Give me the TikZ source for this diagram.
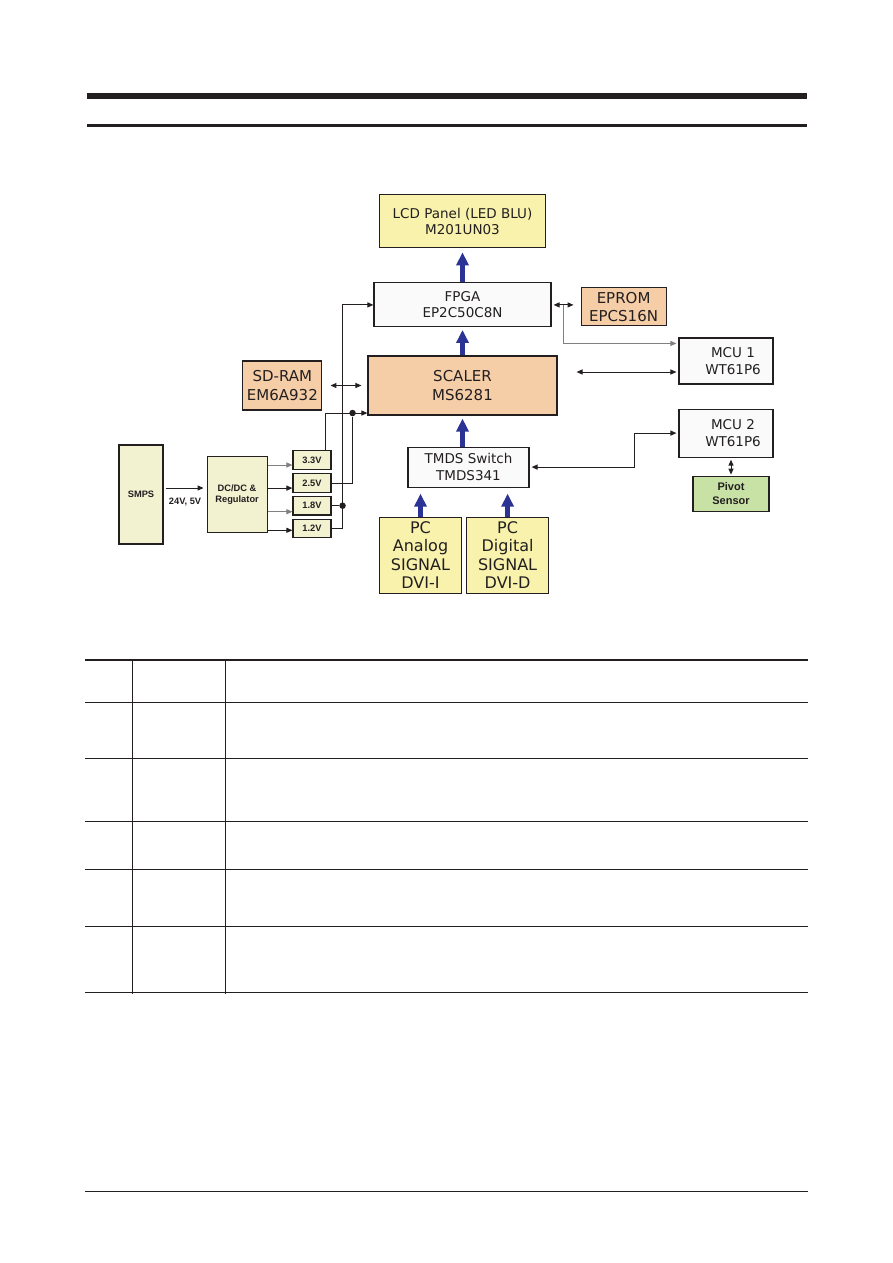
\documentclass[tikz,border=0pt]{standalone}
\usepackage{fontspec}
\setmainfont{DejaVu Sans}
\setsansfont{Liberation Sans}
\usepackage{xcolor}
\usepackage{tikz}
\usetikzlibrary{arrows.meta,positioning}

\definecolor{panelyellow}{RGB}{248,242,172}
\definecolor{chippeach}{RGB}{245,206,168}
\definecolor{chipwhite}{RGB}{250,250,250}
\definecolor{powerbeige}{RGB}{242,241,208}
\definecolor{sensorgreen}{RGB}{200,225,165}
\definecolor{busblue}{RGB}{43,52,148}
\definecolor{ink}{RGB}{35,31,32}

\begin{document}
\begin{tikzpicture}[
    x=1pt, y=1pt,
    box/.style={draw=ink, line width=1.1pt, align=center, inner sep=0pt, text=ink},
    chip/.style={box, font=\fontsize{13.5}{16.3}\selectfont, fill=chipwhite},
    bigchip/.style={box, font=\fontsize{15}{18.4}\selectfont, fill=chippeach},
    source/.style={box, font=\fontsize{16}{18.4}\selectfont, fill=panelyellow, minimum width=82pt, minimum height=76pt},
    power/.style={box, font=\sffamily\bfseries\fontsize{9.3}{11.3}\selectfont, fill=powerbeige},
    volt/.style={power, minimum width=38pt, minimum height=18.5pt},
    arrow/.style={-{Triangle[length=6pt,width=5pt]}, line width=1pt, draw=ink},
    twoway/.style={{Triangle[length=6pt,width=5pt]}-{Triangle[length=6pt,width=5pt]}, line width=1pt, draw=ink},
    bus/.style={-{Triangle[length=13pt,width=12pt]}, line width=4.5pt, draw=busblue},
    joint/.style={circle, fill=ink, inner sep=0pt, minimum size=6.5pt},
    pagerule/.style={draw=ink, line width=1pt}
  ]
    \useasboundingbox (0,0) rectangle (893,-1263);

    % page rules
    \draw[pagerule, line width=6pt] (87,-96) -- (807,-96);
    \draw[pagerule, line width=3.3pt] (87,-125.3) -- (807,-125.3);
    \draw[pagerule, line width=2.2pt] (85,-660) -- (808,-660);
    \foreach \y in {702,758,821,869,926,992}
      \draw[pagerule] (85,-\y) -- (808,-\y);
    \draw[pagerule] (132,-660) -- (132,-994);
    \draw[pagerule] (225,-660) -- (225,-994);
    \draw[pagerule] (85,-1191) -- (808,-1191);

    % signal path
    \node[bigchip, minimum width=189pt, minimum height=59pt] (scaler) at (462.5,-385.5) {SCALER\\MS6281};
    \node[chip, minimum width=177pt, minimum height=44pt, above=28pt of scaler] (fpga) {FPGA\\EP2C50C8N};
    \node[chip, fill=panelyellow, minimum width=166pt, minimum height=53pt, above=34pt of fpga] (lcd) {LCD Panel (LED BLU)\\M201UN03};
    \node[bigchip, minimum width=79pt, minimum height=49pt, left=45pt of scaler] (sdram) {SD-RAM\\EM6A932};
    \node[bigchip, minimum width=85pt, minimum height=38pt, right=29pt of fpga, yshift=-2pt] (eprom) {EPROM\\EPCS16N};
    \node[chip, minimum width=121pt, minimum height=40pt, below=31pt of scaler, xshift=6pt] (tmds) {TMDS Switch\\TMDS341};
    \node[source, below=29pt of tmds, xshift=-48pt] (analog) {PC\\Analog\\SIGNAL\\DVI-I};
    \node[source, right=4pt of analog] (digital) {PC\\Digital\\SIGNAL\\DVI-D};

    % micro controllers
    \node[chip, minimum width=94pt, minimum height=46pt] (mcu1) at (726,-361) {\hspace*{14pt}MCU 1\\\hspace*{14pt}WT61P6};
    \node[chip, minimum width=94pt, minimum height=48pt, below=24pt of mcu1] (mcu2) {\hspace*{14pt}MCU 2\\\hspace*{14pt}WT61P6};
    \node[box, fill=sensorgreen, font=\sffamily\bfseries\fontsize{11}{13.3}\selectfont, minimum width=76pt, minimum height=35pt, below=18pt of mcu2, xshift=5pt] (pivot) {Pivot\\Sensor};

    % power
    \node[power, minimum width=44pt, minimum height=99pt] (smps) at (141,-494.5) {SMPS};
    \node[power, minimum width=60pt, minimum height=76pt, right=43pt of smps] (dcdc) {DC/DC \&\\Regulator};
    \node[volt] (v33) at (312,-460) {3.3V};
    \node[volt, below=3.5pt of v33] (v25) {2.5V};
    \node[volt, below=3pt of v25] (v18) {1.8V};
    \node[volt, below=3pt of v18] (v12) {1.2V};

    \coordinate (smpsout) at ([yshift=6.5pt]smps.east);
    \coordinate (tap33) at ([yshift=-5pt]v33.west);
    \coordinate (tap25) at ([yshift=-5pt]v25.west);
    \coordinate (tap18) at ([yshift=-6pt]v18.west);
    \coordinate (tap12) at ([yshift=-2pt]v12.west);
    \coordinate (railA) at ([xshift=11pt]v12.east);
    \coordinate (railB) at ([xshift=21pt]v25.east);
    \coordinate (feed33) at ([xshift=-6pt]v33.north east);
    \coordinate (scalerin) at ([yshift=2.5pt]scaler.south west);
    \node[joint] (j18) at (v18.east -| railA) {};
    \node[joint] (j25) at (railB |- scalerin) {};

    \draw[arrow, shorten <=2pt, shorten >=3pt] (smpsout) -- (smpsout -| dcdc.west)
      node[midway, below=6pt, font=\sffamily\bfseries\fontsize{9.3}{11}\selectfont, text=ink] (vin) {24V, 5V};
    \draw[arrow, draw=gray] (dcdc.east |- tap33) -- (tap33);
    \draw[arrow] (dcdc.east |- tap25) -- (tap25);
    \draw[arrow, draw=gray] (dcdc.east |- tap18) -- (tap18);
    \draw[arrow] (dcdc.east |- tap12) -- (tap12);

    \draw[arrow] (v12.east) -- (railA) |- (fpga.west);
    \draw[line width=1pt, draw=ink] (v18.east) -- (j18);
    \draw[arrow] (feed33) |- (scalerin);
    \draw[line width=1pt, draw=ink] (v25.east) -| (j25);

    % data links
    \draw[bus, shorten >=4pt] (fpga.north) -- (fpga.north |- lcd.south);
    \draw[bus, shorten >=2.5pt] (scaler.north) -- (scaler.north |- fpga.south);
    \draw[bus, shorten >=3pt] (scaler.south |- tmds.north) -- (scaler.south);
    \draw[bus, shorten >=6pt] (analog.north) -- (analog.north |- tmds.south);
    \draw[bus, shorten >=6pt] (digital.north) -- (digital.north |- tmds.south);

    \coordinate (romtap) at ([xshift=12pt]fpga.east);
    \coordinate (mcu1in) at ([yshift=-6pt]mcu1.north west);
    \coordinate (mcu1io) at ([yshift=-11pt]mcu1.west);
    \coordinate (swrail) at ([xshift=105pt]tmds.east);

    \draw[twoway, shorten <=8pt, shorten >=6pt] (sdram.east) -- (sdram.east -| scaler.west);
    \draw[twoway, shorten <=2pt, shorten >=7pt] (fpga.east) -- (fpga.east -| eprom.west);
    \draw[arrow, draw=gray, shorten >=2pt] (romtap) |- (mcu1in);
    \draw[twoway, shorten <=19pt, shorten >=2pt] (mcu1io -| scaler.east) -- (mcu1io);
    \draw[twoway, shorten <=2pt, shorten >=2pt] (tmds.east) -- (tmds.east -| swrail) |- (mcu2.west);
    \draw[twoway, shorten <=1pt, shorten >=2pt] (pivot.north) -- (pivot.north |- mcu2.south);
  \end{tikzpicture}
\end{document}
